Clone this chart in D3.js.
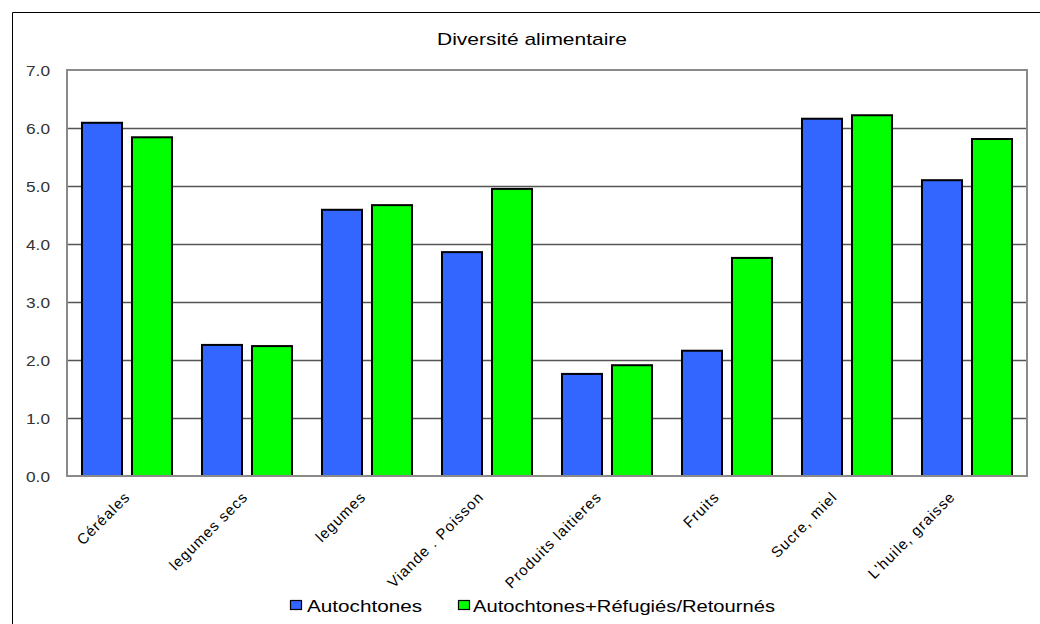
<!DOCTYPE html>
<html>
<head>
<meta charset="utf-8">
<script src="https://cdn.jsdelivr.net/npm/d3@7"></script>
<style>
  html, body { margin: 0; padding: 0; background: #fff; }
  svg { display: block; }
  text { font-family: "Liberation Sans", Arial, sans-serif; }
</style>
</head>
<body>
<svg id="chart" width="1040" height="624"></svg>
<script>
// Diversité alimentaire — average number of days per food group
const categories = ["Céréales", "legumes secs", "legumes", "Viande . Poisson",
                    "Produits laitieres", "Fruits", "Sucre, miel", "L'huile, graisse"];
const seriesNames = ["Autochtones", "Autochtones+Réfugiés/Retournés"];
const autochtones = [6.09, 2.26, 4.59, 3.86, 1.76, 2.16, 6.16, 5.10];
const refugies    = [5.84, 2.24, 4.67, 4.95, 1.91, 3.76, 6.22, 5.81];
const yTicks = [0, 1, 2, 3, 4, 5, 6, 7];
const colors = ["#3366FF", "#00FF00"];

const series = [autochtones, refugies];
const rows = categories.map((c, i) => ({ cat: c, values: series.map(s => s[i]) }));

const svg = d3.select("#chart");
const W = 1040, H = 624;
const plot = { left: 67, right: 1027, top: 70, bottom: 476 };

// outer chart frame (open on the right and bottom)
svg.append("path")
  .attr("d", `M12.5,${H} V12.5 H${W}`)
  .attr("fill", "none").attr("stroke", "#000").attr("stroke-width", 1);

// title
svg.append("text")
  .attr("x", 532).attr("y", 45)
  .attr("text-anchor", "middle")
  .attr("font-size", 17)
  .attr("textLength", 190).attr("lengthAdjust", "spacingAndGlyphs")
  .attr("fill", "#000")
  .text("Diversité alimentaire");

const x = d3.scaleBand().domain(categories).range([plot.left, plot.right]).padding(0);
const xSeries = d3.scaleBand().domain(d3.range(series.length))
  .range([0, x.bandwidth()]).paddingInner(0.2).paddingOuter(0.3);
const y = d3.scaleLinear().domain([0, 7]).range([plot.bottom, plot.top]);

// gridlines
svg.append("g")
  .selectAll("line")
  .data(yTicks.filter(t => t > 0 && t < 7))
  .join("line")
  .attr("x1", plot.left).attr("x2", plot.right)
  .attr("y1", d => Math.round(y(d)) + 0.5).attr("y2", d => Math.round(y(d)) + 0.5)
  .attr("stroke", "#555").attr("stroke-width", 1.3);

// y axis labels
const yAxis = d3.axisLeft(y).tickValues(yTicks).tickFormat(d3.format(".1f")).tickSize(0).tickPadding(0);
const gy = svg.append("g").attr("transform", `translate(50,0)`).call(yAxis);
gy.select(".domain").remove();
gy.selectAll("text")
  .attr("font-size", 14)
  .attr("font-family", "Liberation Sans, Arial, sans-serif")
  .attr("fill", "#333")
  .attr("textLength", 24).attr("lengthAdjust", "spacingAndGlyphs")
  .attr("dy", "0.36em");

// bars
const groups = svg.append("g").selectAll("g")
  .data(rows)
  .join("g")
  .attr("transform", d => `translate(${x(d.cat)},0)`);

groups.selectAll("rect")
  .data(d => d.values.map((v, k) => ({ v, k })))
  .join("rect")
  .attr("x", d => xSeries(d.k))
  .attr("width", xSeries.bandwidth())
  .attr("y", d => y(d.v))
  .attr("height", d => y(0) - y(d.v))
  .attr("fill", d => colors[d.k])
  .attr("stroke", "#000").attr("stroke-width", 2);

// plot area border
svg.append("rect")
  .attr("x", plot.left).attr("y", plot.top)
  .attr("width", plot.right - plot.left).attr("height", plot.bottom - plot.top)
  .attr("fill", "none").attr("stroke", "#8a8a8a").attr("stroke-width", 2);

// category labels, rotated
const xLabel = d3.scalePoint().domain(categories).range([131, 956]);
svg.append("g").selectAll("text")
  .data(categories)
  .join("text")
  .attr("transform", d => `translate(${xLabel(d)},498) rotate(-45)`)
  .attr("text-anchor", "end")
  .attr("font-size", 15)
  .attr("letter-spacing", "1px")
  .attr("fill", "#000")
  .text(d => d);

// legend
const legendItems = [
  { name: seriesNames[0], color: colors[0], sx: 290, tx: 307, len: 115 },
  { name: seriesNames[1], color: colors[1], sx: 458, tx: 473, len: 302 }
];
const lg = svg.append("g");
legendItems.forEach(it => {
  lg.append("rect")
    .attr("x", it.sx + 0.5).attr("y", 600.5).attr("width", 11).attr("height", 9)
    .attr("fill", it.color).attr("stroke", "#000").attr("stroke-width", 1.2);
  lg.append("text")
    .attr("x", it.tx).attr("y", 612)
    .attr("font-size", 17)
    .attr("textLength", it.len).attr("lengthAdjust", "spacingAndGlyphs")
    .attr("fill", "#000")
    .text(it.name);
});
</script>
</body>
</html>
